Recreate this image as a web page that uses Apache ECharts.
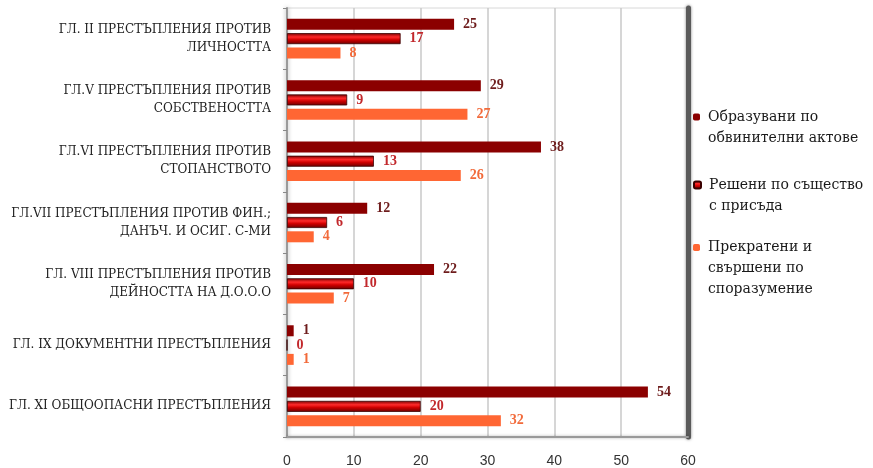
<!DOCTYPE html>
<html><head><meta charset="utf-8">
<script src="https://cdn.jsdelivr.net/npm/echarts@6/dist/echarts.min.js"></script>
<style>html,body{margin:0;padding:0;background:#fff}#c{width:873px;height:468px}</style>
</head><body><div id="c"></div>
<script>
const categories = [
  'ГЛ. II ПРЕСТЪПЛЕНИЯ ПРОТИВ\nЛИЧНОСТТА',
  'ГЛ.V ПРЕСТЪПЛЕНИЯ ПРОТИВ\nСОБСТВЕНОСТТА',
  'ГЛ.VI ПРЕСТЪПЛЕНИЯ ПРОТИВ\nСТОПАНСТВОТО',
  'ГЛ.VII ПРЕСТЪПЛЕНИЯ ПРОТИВ ФИН.;\nДАНЪЧ. И ОСИГ. С-МИ',
  'ГЛ. VIII ПРЕСТЪПЛЕНИЯ ПРОТИВ\nДЕЙНОСТТА НА Д.О.О.О',
  'ГЛ. IX ДОКУМЕНТНИ ПРЕСТЪПЛЕНИЯ',
  'ГЛ. XI ОБЩООПАСНИ ПРЕСТЪПЛЕНИЯ'
];
const seriesNames = [
  'Образувани по\nобвинителни актове',
  'Решени по същество\nс присъда',
  'Прекратени и\nсвършени по\nспоразумение'
];
const indicted = [25, 29, 38, 12, 22, 1, 54];
const convicted = [17, 9, 13, 6, 10, 0, 20];
const terminated = [8, 27, 26, 4, 7, 1, 32];
const xTicks = [0, 10, 20, 30, 40, 50, 60];

const chart = echarts.init(document.getElementById('c'));
const serif = 'Liberation Serif';
const lbl = (color) => ({show: true, position: 'right', distance: 9, color: color,
  fontFamily: serif, fontWeight: 'bold', fontSize: 14});
const legendFont = {fontFamily: 'DejaVu Serif', fontSize: 14, lineHeight: 21, color: '#1a1a1a', padding: [0, 0, 0, 3]};
const legendFor = (i, top) => ({
  orient: 'vertical', left: 693, top: top, padding: 0,
  data: [seriesNames[i]], itemWidth: 7, itemHeight: 7, itemGap: 0,
  formatter: (name) => {
    const lines = name.split('\n');
    return '{p' + (lines.length - 1) + '| }\n' + lines.map(l => '{t|' + l + '}').join('\n');
  },
  textStyle: {rich: {
    p1: {lineHeight: 21, fontSize: 14},
    p2: {lineHeight: 42, fontSize: 14},
    t: legendFont
  }}
});
chart.setOption({
  animation: false,
  grid: {left: 287, right: 185, top: 8, bottom: 30, show: true, borderColor: '#d8d8d8', borderWidth: 1},
  legend: [legendFor(0, 89), legendFor(1, 157), legendFor(2, 209)],
  xAxis: {
    type: 'value', min: xTicks[0], max: xTicks[xTicks.length - 1], interval: 10,
    axisLine: {show: true, lineStyle: {color: '#9a9a9a', width: 2, shadowBlur: 3, shadowColor: 'rgba(0,0,0,0.3)'}},
    axisTick: {show: false},
    axisLabel: {color: '#333', fontFamily: 'Liberation Sans', fontSize: 14, margin: 17},
    splitLine: {show: true, lineStyle: {color: '#c8c8c8', width: 1.5}}
  },
  yAxis: [{
    type: 'category', data: categories, inverse: true,
    axisLine: {show: true, lineStyle: {color: '#9a9a9a', width: 2, shadowBlur: 4, shadowColor: 'rgba(0,0,0,0.35)'}},
    axisTick: {show: true, length: 4, lineStyle: {color: '#888'}},
    axisLabel: {color: '#222', fontFamily: 'DejaVu Serif', fontSize: 12, lineHeight: 18, margin: 16, align: 'right'}
  }, {
    type: 'category', data: categories, inverse: true, position: 'right',
    axisLine: {show: true, lineStyle: {color: '#5a5a5a', width: 5, shadowBlur: 3, shadowColor: 'rgba(0,0,0,0.5)'}},
    axisTick: {show: false}, axisLabel: {show: false}
  }],
  series: [
    {name: seriesNames[0], type: 'bar', data: indicted, barWidth: 11, barGap: '30%', barCategoryGap: '36%',
      itemStyle: {color: '#8b0000'}, label: lbl('#6e1c1c')},
    {name: seriesNames[1], type: 'bar', data: convicted, barWidth: 11, barGap: '30%',
      itemStyle: {color: new echarts.graphic.LinearGradient(0, 0, 0, 1, [
        {offset: 0, color: '#7a0000'}, {offset: 0.35, color: '#ff2a2a'},
        {offset: 0.6, color: '#d00000'}, {offset: 1, color: '#6a0000'}]),
        borderColor: '#3a0000', borderWidth: 0.8},
      label: lbl('#c2282c')},
    {name: seriesNames[2], type: 'bar', data: terminated, barWidth: 11, barGap: '30%',
      itemStyle: {color: '#ff6633'}, label: lbl('#f26a3a')}
  ]
});
</script></body></html>
